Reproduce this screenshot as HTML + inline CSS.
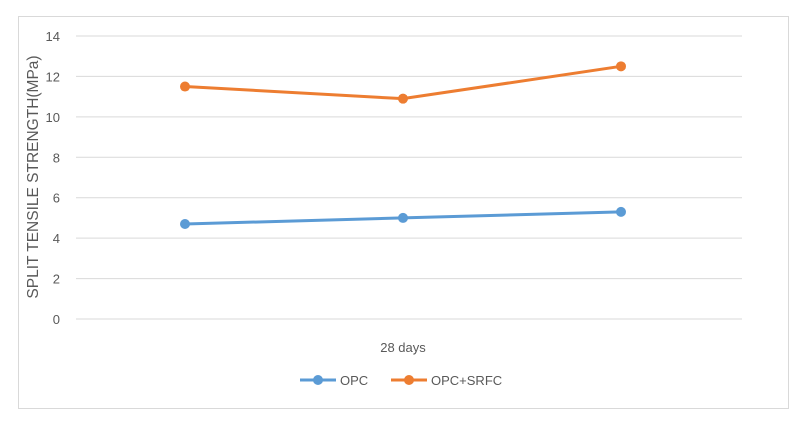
<!DOCTYPE html>
<html><head><meta charset="utf-8"><style>
body{margin:0;background:#fff;font-family:"Liberation Sans",sans-serif;}
svg text{font-family:"Liberation Sans",sans-serif;fill:#595959;}
</style></head><body>
<svg width="809" height="420">
<rect x="18.5" y="16.5" width="770" height="392" fill="#fff" stroke="#d9d9d9"/>
<g id="grid"></g><g id="series"></g>
<text transform="translate(38,177) rotate(-90)" text-anchor="middle" font-size="15.5">SPLIT TENSILE STRENGTH(MPa)</text>
<text x="403" y="352" text-anchor="middle" font-size="13">28 days</text>
<g>
<line x1="300" y1="380" x2="336" y2="380" stroke="#5b9bd5" stroke-width="3"/><circle cx="318" cy="380" r="5" fill="#5b9bd5"/>
<text x="340" y="385" font-size="13">OPC</text>
<line x1="391" y1="380" x2="427" y2="380" stroke="#ed7d31" stroke-width="3"/><circle cx="409" cy="380" r="5" fill="#ed7d31"/>
<text x="431" y="385" font-size="13">OPC+SRFC</text>
</g>
</svg>
<script>
const ticks=[0,2,4,6,8,10,12,14];
const opc=[4.7,5.0,5.3];
const srfc=[11.5,10.9,12.5];
const NS="http://www.w3.org/2000/svg";
function y(v){return 319-v*(283/14);}
function x(i){return 185+i*218;}
const g=document.getElementById('grid'),s=document.getElementById('series');
ticks.forEach(t=>{
 const l=document.createElementNS(NS,'line');
 l.setAttribute('x1',76);l.setAttribute('x2',742);l.setAttribute('y1',y(t));l.setAttribute('y2',y(t));
 l.setAttribute('stroke','#d9d9d9');l.setAttribute('stroke-width','1');
 
 
 g.appendChild(l);
 const tx=document.createElementNS(NS,'text');
 tx.setAttribute('x',60);tx.setAttribute('y',y(t)+5);tx.setAttribute('text-anchor','end');tx.setAttribute('font-size','13');
 tx.textContent=t;
 
 
 g.appendChild(tx);
});
[[opc,'#5b9bd5','opc'],[srfc,'#ed7d31','opc-srfc']].forEach(([d,c,n])=>{
 const p=document.createElementNS(NS,'polyline');
 p.setAttribute('points',d.map((v,i)=>x(i)+','+y(v)).join(' '));
 p.setAttribute('fill','none');p.setAttribute('stroke',c);p.setAttribute('stroke-width','3');
 
 
 s.appendChild(p);
 d.forEach((v,i)=>{
  const m=document.createElementNS(NS,'circle');
  m.setAttribute('cx',x(i));m.setAttribute('cy',y(v));m.setAttribute('r',5);m.setAttribute('fill',c);
  
  
  s.appendChild(m);
 });
});
</script>
</body></html>
